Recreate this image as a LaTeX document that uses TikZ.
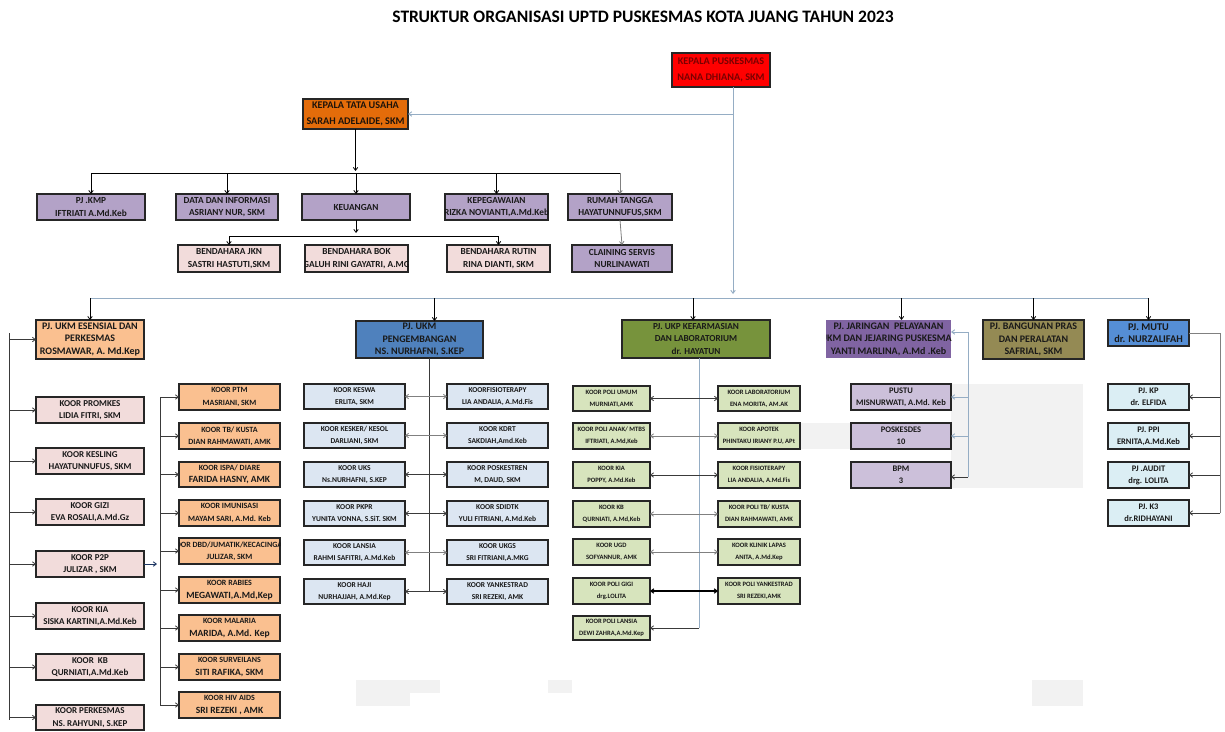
\documentclass[tikz,border=0pt]{standalone}
\usepackage{fontspec}
\setmainfont{Carlito}
\usetikzlibrary{arrows.meta}
\definecolor{cred}{HTML}{FF0000}
\definecolor{cdred}{HTML}{7A0000}
\definecolor{ctu}{HTML}{E46C0A}
\definecolor{cpur}{HTML}{B3A2C7}
\definecolor{cpink}{HTML}{F2DCDB}
\definecolor{corg}{HTML}{FAC090}
\definecolor{cblue}{HTML}{4F81BD}
\definecolor{cgreen}{HTML}{77933C}
\definecolor{cviolet}{HTML}{8064A2}
\definecolor{colive}{HTML}{948A54}
\definecolor{cmutu}{HTML}{558ED5}
\definecolor{cpblue}{HTML}{DCE6F2}
\definecolor{clgreen}{HTML}{D7E4BD}
\definecolor{clav}{HTML}{CCC0DA}
\definecolor{ccyan}{HTML}{DBEEF4}
\definecolor{cline}{HTML}{95ADC4}
\definecolor{cgln}{HTML}{808080}
\definecolor{cdk}{HTML}{3A3A3A}
\definecolor{cart}{HTML}{F2F2F2}
\definecolor{cnavy}{HTML}{1F3864}
\tikzset{
  obox/.style={draw=black!85, line width=1.1pt, inner sep=0pt, outer sep=0pt},
  nobord/.style={draw=none},
  otxt/.style={inner sep=0pt, align=center, text=black!90, font=\bfseries\fontsize{8}{12.5}\selectfont},
  fbig/.style={font=\bfseries\fontsize{10}{12.5}\selectfont},
  fukp/.style={font=\bfseries\fontsize{9.2}{12.5}\selectfont},
  fsm/.style={font=\bfseries\fontsize{9.3}{12.5}\selectfont},
  fpk/.style={font=\bfseries\fontsize{9}{12.5}\selectfont},
  fxs/.style={font=\bfseries\fontsize{7.5}{12}\selectfont},
  fus/.style={font=\bfseries\fontsize{6.6}{12}\selectfont},
  fjr/.style={font=\bfseries\fontsize{8.5}{12}\selectfont},
  barb/.style={-{Straight Barb[length=3pt,width=4.5pt]}},
  dbarb/.style={{Straight Barb[length=3pt,width=4.5pt]}-{Straight Barb[length=3pt,width=4.5pt]}},
  lnk/.style={draw=black, line width=0.8pt},
  lnb/.style={draw=cline, line width=0.9pt},
  lng/.style={draw=cgln, line width=0.8pt},
  lnd/.style={draw=cdk, line width=0.8pt},
}
\newcommand\obx[8]{%
  \node[obox,#6,minimum width={#4pt-#2pt},minimum height={#5pt-#3pt}] (#1) at ({(#2+#4)/2},{(#3+#5)/2}) {};
  \begin{scope}
    \clip (#1.south west) rectangle (#1.north east);
    \node[otxt,#7] (#1-t) at (#1.center) {#8};
  \end{scope}}
\newcommand\Lg[1]{{\fontsize{9.5}{12.5}\selectfont #1}}
\begin{document}
\begin{tikzpicture}[x=1pt,y=-1pt]
\useasboundingbox[fill=white] (0,0) rectangle (1225,731);
% faint background patches
\fill[cart] (951,384) rectangle (1083,488);
\fill[cart] (800,423) rectangle (851,449);
\fill[cart] (356,680) rectangle (440,693);
\fill[cart] (356,693) rectangle (410,706);
\fill[cart] (548,680) rectangle (572,693);
\fill[cart] (1032,680) rectangle (1083,706);

\node[font=\bfseries\fontsize{17.5}{20}\selectfont] (title) at (643,17) {STRUKTUR ORGANISASI UPTD PUSKESMAS KOTA JUANG TAHUN 2023};

% top
\obx{kp}{672}{53}{770}{87}{fill=cred}{font=\bfseries\fontsize{10.2}{16.5}\selectfont,text=cdred}{KEPALA PUSKESMAS\\NANA DHIANA, SKM}
\obx{tu}{303}{99}{408}{129}{fill=ctu}{font=\bfseries\fontsize{10.2}{15.5}\selectfont,text=black!85!brown}{KEPALA TATA USAHA\\SARAH ADELAIDE, SKM}

% row 2
\obx{kmp}{37}{194}{145}{220}{fill=cpur}{fsm}{PJ .KMP\\IFTRIATI A.Md.Keb}
\obx{data}{176}{194}{278}{220}{fill=cpur}{fsm}{DATA DAN INFORMASI\\ASRIANY NUR, SKM}
\obx{keu}{302}{194}{410}{220}{fill=cpur}{fsm}{KEUANGAN}
\obx{kepeg}{445}{194}{548}{220}{fill=cpur}{fsm}{KEPEGAWAIAN\\RIZKA NOVIANTI,A.Md.Keb}
\obx{rt}{568}{194}{672}{220}{fill=cpur}{fsm}{RUMAH TANGGA\\HAYATUNNUFUS,SKM}
% row 3
\obx{jkn}{178}{245}{280}{272}{fill=cpink}{fsm}{BENDAHARA JKN\\SASTRI HASTUTI,SKM}
\obx{bok}{305}{245}{408}{272}{fill=cpink}{fsm}{BENDAHARA BOK\\GALUH RINI GAYATRI, A.MG}
\obx{rutin}{447}{245}{550}{272}{fill=cpink}{fsm}{BENDAHARA RUTIN\\RINA DIANTI, SKM}
\obx{cs}{572}{245}{672}{272}{fill=cpur}{fsm}{CLAINING SERVIS\\NURLINAWATI}

% row 4 heads
\obx{esn}{36}{320}{144}{359}{fill=corg}{fbig}{PJ. UKM ESENSIAL DAN\\PERKESMAS\\ROSMAWAR, A. Md.Kep}
\obx{peng}{356}{321}{483}{358}{fill=cblue}{fbig}{PJ. UKM\\PENGEMBANGAN\\NS. NURHAFNI, S.KEP}
\obx{ukp}{622}{320}{770}{358}{fill=cgreen}{fukp}{PJ. UKP KEFARMASIAN\\DAN LABORATORIUM\\dr. HAYATUN}
\obx{jar}{826}{320}{951}{358}{fill=cviolet,nobord}{fbig}{PJ. JARINGAN\ \ PELAYANAN\\UKM DAN JEJARING PUSKESMAS\\YANTI MARLINA, A.Md .Keb}
\obx{bang}{983}{320}{1084}{359}{fill=colive}{fbig}{PJ. BANGUNAN PRAS\\DAN PERALATAN\\SAFRIAL, SKM}
\obx{mutu}{1108}{320}{1189}{346}{fill=cmutu}{font=\bfseries\fontsize{10.3}{12.5}\selectfont}{PJ. MUTU\\dr. NURZALIFAH}

% pink column
\obx{promkes}{36}{397}{144}{423}{fill=cpink}{fpk}{KOOR PROMKES\\LIDIA FITRI, SKM}
\obx{kesling}{36}{448}{144}{474}{fill=cpink}{fpk}{KOOR KESLING\\HAYATUNNUFUS, SKM}
\obx{gizi}{36}{499}{144}{525}{fill=cpink}{fpk}{KOOR GIZI\\EVA ROSALI,A.Md.Gz}
\obx{p2p}{36}{551}{144}{577}{fill=cpink}{fpk}{KOOR P2P\\JULIZAR , SKM}
\obx{kia}{36}{603}{144}{629}{fill=cpink}{fpk}{KOOR KIA\\SISKA KARTINI,A.Md.Keb}
\obx{kb}{36}{654}{144}{680}{fill=cpink}{fpk}{KOOR\ \ KB\\QURNIATI,A.Md.Keb}
\obx{perk}{36}{705}{144}{730}{fill=cpink}{fpk}{KOOR PERKESMAS\\NS. RAHYUNI, S.KEP}

% orange column
\obx{ptm}{179}{384}{280}{410}{fill=corg}{}{KOOR PTM\\MASRIANI, SKM}
\obx{tb}{179}{423}{280}{449}{fill=corg}{}{KOOR TB/ KUSTA\\DIAN RAHMAWATI, AMK}
\obx{ispa}{179}{462}{280}{487}{fill=corg}{}{KOOR ISPA/ DIARE\\\Lg{FARIDA HASNY, AMK}}
\obx{imun}{179}{500}{280}{526}{fill=corg}{}{KOOR IMUNISASI\\MAYAM SARI, A.Md. Keb}
\obx{dbd}{179}{538}{280}{564}{fill=corg}{}{KOOR DBD/JUMATIK/KECACINGAN\\JULIZAR, SKM}
\obx{rab}{179}{577}{280}{603}{fill=corg}{}{KOOR RABIES\\\Lg{MEGAWATI,A.Md,Kep}}
\obx{mal}{179}{615}{280}{641}{fill=corg}{}{KOOR MALARIA\\\Lg{MARIDA, A.Md. Kep}}
\obx{surv}{179}{654}{280}{680}{fill=corg}{}{KOOR SURVEILANS\\\Lg{SITI RAFIKA, SKM}}
\obx{hiv}{179}{692}{280}{718}{fill=corg}{}{KOOR HIV AIDS\\\Lg{SRI REZEKI , AMK}}

% pengembangan children
\obx{keswa}{304}{384}{405}{409}{fill=cpblue}{fxs}{KOOR KESWA\\ERLITA, SKM}
\obx{fisio}{447}{384}{548}{409}{fill=cpblue}{fxs}{KOORFISIOTERAPY\\LIA ANDALIA, A.Md.Fis}
\obx{kesker}{304}{423}{405}{448}{fill=cpblue}{fxs}{KOOR KESKER/ KESOL\\DARLIANI, SKM}
\obx{kdrt}{447}{423}{548}{448}{fill=cpblue}{fxs}{KOOR KDRT\\SAKDIAH,Amd.Keb}
\obx{uks}{304}{462}{405}{487}{fill=cpblue}{fxs}{KOOR UKS\\Ns.NURHAFNI, S.KEP}
\obx{posk}{447}{462}{548}{487}{fill=cpblue}{fxs}{KOOR POSKESTREN\\M, DAUD, SKM}
\obx{pkpr}{304}{501}{405}{526}{fill=cpblue}{fxs}{KOOR PKPR\\YUNITA VONNA, S.SiT. SKM}
\obx{sdidtk}{447}{501}{548}{526}{fill=cpblue}{fxs}{KOOR SDIDTK\\YULI FITRIANI, A.Md.Keb}
\obx{lansia}{304}{540}{405}{565}{fill=cpblue}{fxs}{KOOR LANSIA\\RAHMI SAFITRI, A.Md.Keb}
\obx{ukgs}{447}{540}{548}{565}{fill=cpblue}{fxs}{KOOR UKGS\\SRI FITRIANI,A.MKG}
\obx{haji}{304}{579}{405}{604}{fill=cpblue}{fxs}{KOOR HAJI\\NURHAJJAH, A.Md.Kep}
\obx{yank}{447}{579}{548}{604}{fill=cpblue}{fxs}{KOOR YANKESTRAD\\SRI REZEKI, AMK}

% UKP children
\obx{umum}{573}{386}{650}{411}{fill=clgreen}{fus}{KOOR POLI UMUM\\MURNIATI,AMK}
\obx{lab}{718}{386}{800}{411}{fill=clgreen}{fus}{KOOR LABORATORIUM\\ENA MORITA, AM.AK}
\obx{anak}{573}{423}{650}{449}{fill=clgreen}{fus}{KOOR POLI ANAK/ MTBS\\IFTRIATI, A.Md,Keb}
\obx{apotek}{718}{423}{800}{449}{fill=clgreen}{fus}{KOOR APOTEK\\PHINTAKU IRIANY P.U, APt}
\obx{ukia}{573}{462}{650}{488}{fill=clgreen}{fus}{KOOR KIA\\POPPY, A.Md.Keb}
\obx{ufisio}{718}{462}{800}{488}{fill=clgreen}{fus}{KOOR FISIOTERAPY\\LIA ANDALIA, A.Md.Fis}
\obx{ukb}{573}{501}{650}{527}{fill=clgreen}{fus}{KOOR KB\\QURNIATI, A.Md,Keb}
\obx{utb}{718}{501}{800}{527}{fill=clgreen}{fus}{KOOR POLI TB/ KUSTA\\DIAN RAHMAWATI, AMK}
\obx{ugd}{573}{539}{650}{565}{fill=clgreen}{fus}{KOOR UGD\\SOFYANNUR, AMK}
\obx{lapas}{718}{539}{800}{565}{fill=clgreen}{fus}{KOOR KLINIK LAPAS\\ANITA, A.Md.Kep}
\obx{gigi}{573}{578}{650}{604}{fill=clgreen}{fus}{KOOR POLI GIGI\\drg.LOLITA}
\obx{uyank}{718}{578}{800}{604}{fill=clgreen}{fus}{KOOR POLI YANKESTRAD\\SRI REZEKI,AMK}
\obx{ulansia}{573}{616}{650}{640}{fill=clgreen}{fus}{KOOR POLI LANSIA\\DEWI ZAHRA,A.Md.Kep}

% jaringan children
\obx{pustu}{851}{384}{951}{410}{fill=clav}{fjr}{PUSTU\\MISNURWATI, A.Md. Keb}
\obx{pkd}{851}{423}{951}{449}{fill=clav}{fjr}{POSKESDES\\10}
\obx{bpm}{851}{462}{951}{488}{fill=clav}{fjr}{BPM\\3}

% mutu children
\obx{kp3}{1108}{384}{1189}{410}{fill=ccyan}{fjr}{PJ. KP\\dr. ELFIDA}
\obx{ppi}{1108}{423}{1189}{449}{fill=ccyan}{fjr}{PJ. PPI\\ERNITA,A.Md.Keb}
\obx{audit}{1108}{462}{1189}{488}{fill=ccyan}{fjr}{PJ .AUDIT\\drg. LOLITA}
\obx{k3}{1108}{500}{1189}{526}{fill=ccyan}{fjr}{PJ. K3\\dr.RIDHAYANI}

% ---- connectors ----
\coordinate (kpb) at (733,87);
\coordinate (kpe) at (733,294);
\draw[lnb,barb] (kpb) -- (kpe);
\draw[lnb,barb] (kpb |- tu.east) -- (tu.east);

% tata usaha tree
\coordinate (r2) at (0,173);
\draw[lnk,barb] (tu.south) -- ([yshift=2pt]tu.south |- r2);
\draw[lnk] (kmp.north |- r2) -- (rt.north |- r2);
\foreach \n in {kmp,data,keu,kepeg} \draw[lnk,barb] (\n.north |- r2) -- (\n.north);
\draw[lng,barb] (rt.north |- r2) -- (rt.north);
\coordinate (r3) at (0,236);
\draw[lnk,barb] (keu.south) -- ([yshift=3pt]keu.south |- r3);
\draw[lnk] (jkn.north |- r3) -- (rutin.north |- r3);
\draw[lnk,barb] (jkn.north |- r3) -- (jkn.north);
\draw[lnk,barb] (rutin.north |- r3) -- (rutin.north);
\draw[lng,barb] (rt.south) -- (cs.north);

% row 4 bus
\coordinate (r4) at (0,298);
\draw[lnb] (esn.north |- r4) -- (mutu.north |- r4);
\draw[lnk,barb] (esn.north |- r4) -- (esn.north);
\draw[lnk,barb] ([xshift=15pt]peng.north |- r4) -- ([xshift=15pt]peng.north);
\draw[lnk,barb] ([xshift=-3pt]ukp.north |- r4) -- ([xshift=-3pt]ukp.north);
\draw[lnk,barb] ([xshift=13pt]jar.north |- r4) -- ([xshift=13pt]jar.north);
\draw[lnk,barb] (bang.north |- r4) -- (bang.north);
\draw[lnk,barb] (mutu.north |- r4) -- (mutu.north);

% left bus (esensial)
\coordinate (lbt) at (9,333);
\coordinate (lbb) at (9,720);
\draw[lnd] (lbt) -- (lbb);
\foreach \n in {esn,promkes,kesling,gizi,p2p,kia,kb,perk} \draw[lnd,barb] (lbt |- \n.west) -- (\n.west);

% orange bus
\coordinate (obt) at (160,397);
\coordinate (obb) at (160,705);
\draw[lnd] (obt) -- (obb);
\foreach \n in {ptm,tb,ispa,imun,dbd,rab,mal,surv,hiv} \draw[lnd,barb] (obt |- \n.west) -- (\n.west);
\draw[draw=cnavy,line width=0.9pt,barb] (p2p.east) -- ([xshift=-3pt]obt |- p2p.east);

% pengembangan bus
\coordinate (pgb) at (429,592);
\draw[lnd] (pgb |- peng.south) -- (pgb);
\draw[lng,dbarb] (keswa.east) -- (fisio.west);
\draw[lng,dbarb] (kesker.east) -- (kdrt.west);
\draw[lnd,dbarb] (uks.east) -- (posk.west);
\draw[lnd,dbarb] (pkpr.east) -- (sdidtk.west);
\draw[lng,dbarb] (lansia.east) -- (ukgs.west);
\draw[lnd,dbarb] (haji.east) -- (yank.west);

% UKP bus
\coordinate (ukb0) at (699,628);
\draw[lnb] (ukb0 |- ukp.south) -- (ukb0);
\draw[lnd,barb] (ukb0) -- (ulansia.east);
\draw[lnd,dbarb] (umum.east) -- (lab.west);
\draw[lng,dbarb] (anak.east) -- (apotek.west);
\draw[lnd,dbarb] (ukia.east) -- (ufisio.west);
\draw[lng,dbarb] (ukb.east) -- (utb.west);
\draw[lng,dbarb] (ugd.east) -- (lapas.west);
\draw[draw=black,line width=1.1pt,dbarb] (gigi.east) -- (uyank.west);

% jaringan bus
\coordinate (jbt) at (968,332);
\coordinate (jbb) at (968,477);
\draw[lnb] (jbt) -- (jbb);
\draw[lnb,barb] (jbt) -- (jbt -| jar.east);
\draw[lnb,barb] (jbt |- pustu.east) -- (pustu.east);
\draw[lnb,barb] (jbt |- pkd.east) -- (pkd.east);
\draw[lnd,barb] (jbb) -- (jbb -| bpm.east);

% mutu bus
\coordinate (mbt) at (1220,333);
\coordinate (mbb) at (1220,513);
\draw[lng] (mbt -| mutu.east) -- (mbt) -- (mbb);
\foreach \n in {kp3,ppi,audit,k3} \draw[lnd,barb] (mbt |- \n.east) -- (\n.east);
\end{tikzpicture}
\end{document}
